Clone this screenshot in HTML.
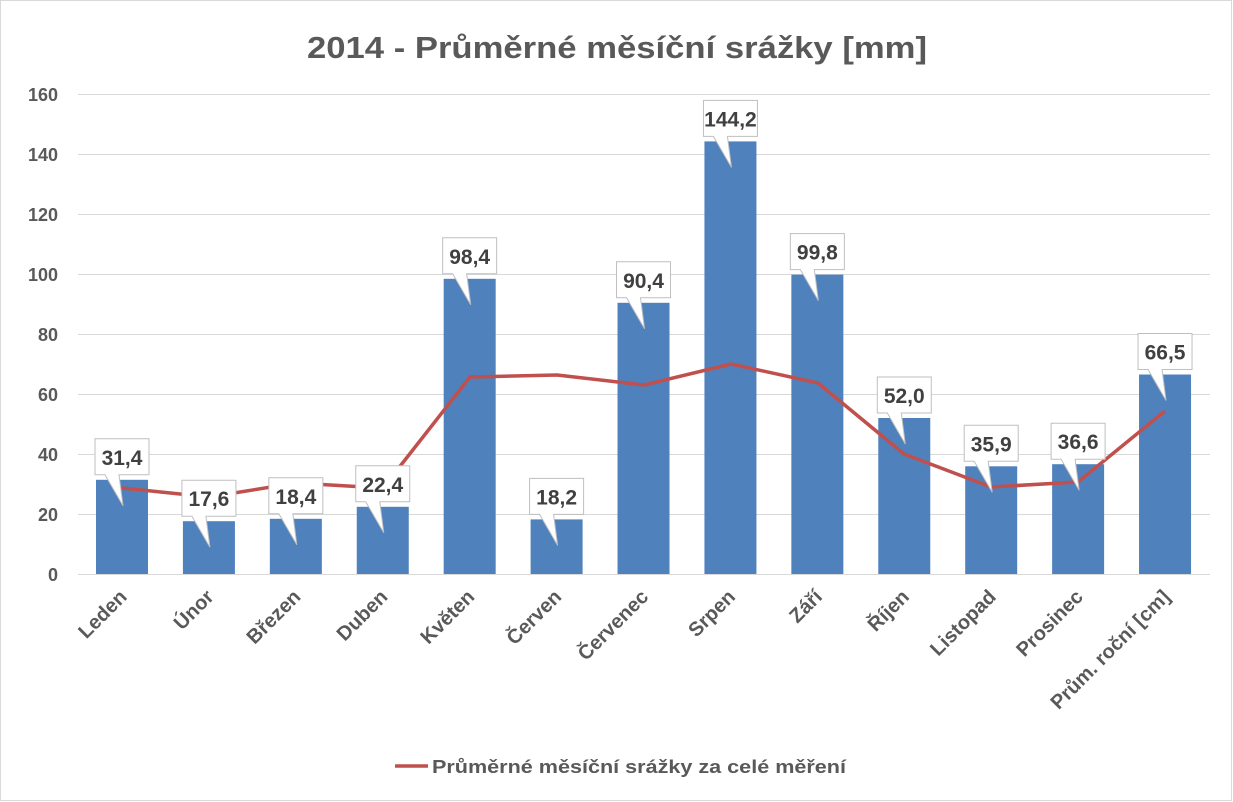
<!DOCTYPE html><html><head><meta charset="utf-8"><style>body{margin:0;background:#fff}svg{display:block}text{font-family:"Liberation Sans",sans-serif}</style></head><body>
<svg width="1233" height="802" xmlns="http://www.w3.org/2000/svg">
<rect x="0.5" y="0.5" width="1231" height="800" fill="#fff" stroke="#d9d9d9"/>
<text x="617" y="58" text-anchor="middle" font-size="31" font-weight="bold" fill="#595959" textLength="620" lengthAdjust="spacingAndGlyphs">2014 - Průměrné měsíční srážky [mm]</text>
<g stroke="#d9d9d9" stroke-width="1">
<line x1="78" x2="1210" y1="94.5" y2="94.5"/><line x1="78" x2="1210" y1="154.5" y2="154.5"/><line x1="78" x2="1210" y1="214.5" y2="214.5"/><line x1="78" x2="1210" y1="274.5" y2="274.5"/><line x1="78" x2="1210" y1="334.5" y2="334.5"/><line x1="78" x2="1210" y1="394.5" y2="394.5"/><line x1="78" x2="1210" y1="454.5" y2="454.5"/><line x1="78" x2="1210" y1="514.5" y2="514.5"/><line x1="78" x2="1210" y1="574.5" y2="574.5"/>
</g>
<g font-size="18" font-weight="bold" fill="#595959" text-anchor="end">
<text x="58" y="101">160</text><text x="58" y="161">140</text><text x="58" y="221">120</text><text x="58" y="281">100</text><text x="58" y="341">80</text><text x="58" y="401">60</text><text x="58" y="461">40</text><text x="58" y="521">20</text><text x="58" y="581">0</text>
</g>
<g id="bars" fill="#4f81bd"></g>
<polyline fill="none" stroke="#c0504d" stroke-width="3.5" stroke-linejoin="round" points="122,488 209,497 296,483 383,488 470,377 557,375 644,385 731,364 818,383 904,454 991,487 1078,482 1165,411"/>
<g id="labels"></g>
<g id="cats" font-size="20" font-weight="bold" fill="#595959" text-anchor="end"></g>
<line x1="395" x2="428" y1="766" y2="766" stroke="#c0504d" stroke-width="3.5"/>
<text x="432" y="773" font-size="18" font-weight="bold" fill="#595959" textLength="414" lengthAdjust="spacingAndGlyphs">Průměrné měsíční srážky za celé měření</text>
<script>
var v=[31.4,17.6,18.4,22.4,98.4,18.2,90.4,144.2,99.8,52.0,35.9,36.6,66.5];
var c=["Leden","Únor","Březen","Duben","Květen","Červen","Červenec","Srpen","Září","Říjen","Listopad","Prosinec","Prům. roční [cm]"];
var ns="http://www.w3.org/2000/svg",B=document.getElementById("bars"),L=document.getElementById("labels"),C=document.getElementById("cats");
function el(t,a,p){var e=document.createElementNS(ns,t);for(var k in a)e.setAttribute(k,a[k]);p.appendChild(e);return e;}
v.forEach(function(val,i){
 var cx=122+i*86.92,top=574-val*3;
 el("rect",{x:cx-26,y:top,width:52,height:574-top},B);
 var bt=top-41,bb=top-5,bl=cx-27,br=cx+27;
 el("path",{d:"M"+bl+","+bt+"H"+br+"V"+bb+"H"+(cx-3)+"L"+(cx+1)+","+(top+26)+"L"+(cx-17)+","+bb+"H"+bl+"Z",fill:"#fff",stroke:"#bfbfbf","stroke-width":1},L);
 var t=el("text",{x:cx,y:bb-10,"text-anchor":"middle","font-size":21,"font-weight":"bold",fill:"#404040"},L);t.textContent=val.toFixed(1).replace(".",",");
 var ax=cx+6,ay=598;
 var ct=el("text",{x:ax,y:ay,transform:"rotate(-45 "+ax+" "+ay+")"},C);ct.textContent=c[i];
});
</script>
</svg></body></html>
